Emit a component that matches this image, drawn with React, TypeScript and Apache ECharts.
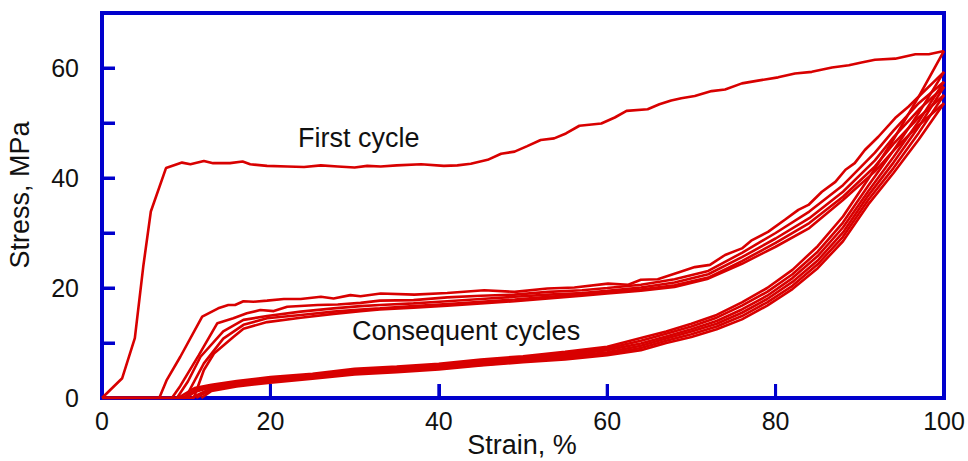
import React, { useEffect, useRef } from "react";
import * as echarts from "echarts";

// Axis settings
const X_TICKS = [0, 20, 40, 60, 80, 100];
const Y_TICK_LABELS = [0, 20, 40, 60];
const X_TICK_MARKS = [20, 40, 60, 80];
const Y_TICK_MARKS = [10, 20, 30, 40, 50, 60];

// First cycle loading curve [strain %, stress MPa]
const FIRST_LOAD: [number, number][] = [
  [0, 0], [2.4, 3.6], [3.9, 10.9], [4.9, 23.9], [5.8, 33.9], [7.6, 41.8], [9.5, 42.8], [10.5, 42.5],
  [12.1, 43.1], [13.2, 42.7], [15.2, 42.7], [16.7, 43.0], [17.6, 42.5], [19.6, 42.2], [22, 42.1],
  [24, 42.0], [26, 42.3], [28, 42.1], [30, 41.9], [31.5, 42.2], [33.1, 42.1], [35, 42.3], [37.9, 42.5],
  [40.6, 42.2], [42.2, 42.3], [43.8, 42.6], [45.8, 43.3], [47.4, 44.4], [49, 44.8], [50.5, 45.8],
  [52.1, 46.9], [53.7, 47.2], [55.1, 48.1], [56.7, 49.5], [59.3, 49.9], [60.9, 51.0], [62.3, 52.2],
  [64.8, 52.5], [66.2, 53.4], [67.6, 54.1], [68.8, 54.5], [70.4, 54.9], [72.4, 55.8], [74, 56.1],
  [76, 57.2], [77.9, 57.7], [80.3, 58.3], [82.3, 59.0], [84.3, 59.3], [86.7, 60.1], [88.7, 60.5],
  [90.2, 61.0], [91.8, 61.5], [94.2, 61.7], [96.6, 62.5], [98.2, 62.5], [100, 63.1],
];

// Consequent cycles, loading branches
const LOAD_2: [number, number][] = [
  [0, 0], [6.8, 0], [7.7, 3.3], [9.3, 7.5], [11.9, 14.8], [13.8, 16.3], [15, 16.9], [15.8, 16.9],
  [16.8, 17.6], [18, 17.5], [19.6, 17.7], [21.6, 18.0], [23.6, 18.0], [26, 18.4], [27.5, 18.1],
  [29.5, 18.7], [30.7, 18.5], [33.1, 19.0], [37.1, 18.8], [41, 19.1], [45.4, 19.6], [49, 19.3],
  [52.9, 19.9], [56.1, 20.1], [60.1, 20.8], [62.5, 20.6], [64, 21.5], [66, 21.6], [68.8, 23.0],
  [70.4, 23.8], [72.2, 24.2], [74, 26.0], [76, 27.2], [77.1, 28.6], [79.1, 30.2], [81.1, 32.4],
  [82.7, 34.2], [83.9, 35.1], [85.5, 37.5], [87.1, 39.3], [88.3, 41.5], [89.4, 42.7], [90.6, 45.1],
  [92.2, 47.5], [94.2, 50.9], [95.8, 53.0], [97.4, 55.4], [99, 57.8], [100, 59.3],
];
const LOAD_3: [number, number][] = [
  [0, 0], [8.3, 0], [9.3, 2.2], [11.5, 7.8], [13.7, 13.6], [15.6, 14.5], [17.2, 15.4], [18.8, 16.0],
  [20.4, 15.8], [22, 16.6], [25.6, 16.9], [28, 17.0], [30.7, 17.3], [33, 17.7], [37, 17.8], [41, 18.3],
  [45, 18.6], [49, 18.8], [53, 19.3], [57, 19.6], [60, 20.0], [64, 20.6], [68, 21.6], [72, 23.1],
  [76, 26.4], [80, 30.0], [84, 33.9], [88, 38.7], [91.8, 44.6], [94, 48.6], [97, 53.6], [100, 57.5],
];
const LOAD_4: [number, number][] = [
  [0, 0], [8.9, 0], [10.2, 3.0], [11.7, 7.5], [14.4, 12.1], [16.8, 14.2], [19.6, 14.9], [23.6, 15.7],
  [27.5, 16.3], [30.7, 16.7], [33, 16.9], [37, 17.2], [41, 17.6], [45, 18.0], [49, 18.4], [53, 18.8],
  [57, 19.1], [60, 19.5], [64, 20.1], [68, 21.0], [72, 22.5], [76, 25.6], [80, 29.0], [84, 32.7],
  [88, 37.5], [91.8, 43.2], [94, 47.4], [97, 52.4], [100, 56.6],
];
const LOAD_5: [number, number][] = [
  [0, 0], [9.9, 0], [12.1, 6.3], [14.4, 10.8], [16.8, 13.3], [19.6, 14.5], [23.6, 15.1], [27.5, 15.7],
  [30.7, 16.1], [33, 16.3], [37, 16.7], [41, 17.1], [45, 17.5], [49, 17.9], [53, 18.4], [57, 18.8],
  [60, 19.2], [64, 19.7], [68, 20.5], [72, 21.9], [76, 24.9], [80, 28.2], [84, 31.8], [88, 36.6],
  [91.8, 42.1], [94, 46.2], [97, 51.0], [100, 55.1],
];
const LOAD_6: [number, number][] = [
  [0, 0], [10.9, 0], [12.1, 5.1], [13.3, 8.1], [15.6, 11.1], [16.8, 12.6], [19.6, 13.8], [23.6, 14.6],
  [27.5, 15.3], [30.7, 15.8], [33, 16.1], [37, 16.4], [41, 16.8], [45, 17.2], [49, 17.6], [53, 18.1],
  [57, 18.6], [60, 19.0], [64, 19.5], [68, 20.2], [72, 21.7], [76, 24.4], [80, 27.5], [84, 30.9],
  [88, 36.0], [91.8, 41.2], [94, 45.0], [97, 49.6], [100, 53.6],
];

// Unloading branches (all cycles)
const UNLOAD_1: [number, number][] = [
  [100, 63.1], [97, 54.8], [94, 47.0], [91, 39.8], [88, 33.0], [85, 27.6], [82, 23.3], [79, 20.0],
  [76, 17.4], [73, 15.1], [70, 13.5], [67, 12.1], [64, 10.9], [60, 9.3], [55, 8.4], [50, 7.6],
  [45, 7.0], [40, 6.2], [35, 5.7], [30, 5.3], [25, 4.4], [20, 3.8], [16, 3.1], [13, 2.4], [11, 1.8], [9.0, 0],
];
const UNLOAD_2: [number, number][] = [
  [100, 59.3], [97, 51.8], [94, 45.0], [91, 38.6], [88, 31.9], [85, 26.6], [82, 22.5], [79, 19.3],
  [76, 16.8], [73, 14.6], [70, 13.0], [67, 11.7], [64, 10.4], [60, 9.0], [55, 8.1], [50, 7.4],
  [45, 6.7], [40, 6.0], [35, 5.5], [30, 5.0], [25, 4.2], [20, 3.6], [16, 2.9], [13, 2.2], [11, 1.4], [9.5, 0],
];
const UNLOAD_3: [number, number][] = [
  [100, 57.5], [97, 50.3], [94, 43.8], [91, 37.6], [88, 31.0], [85, 25.8], [82, 21.8], [79, 18.6],
  [76, 16.1], [73, 14.0], [70, 12.5], [67, 11.2], [64, 9.9], [60, 8.7], [55, 7.8], [50, 7.1],
  [45, 6.4], [40, 5.8], [35, 5.2], [30, 4.8], [25, 4.0], [20, 3.4], [16, 2.7], [13, 2.0], [11, 1.1], [10.0, 0],
];
const UNLOAD_4: [number, number][] = [
  [100, 56.6], [97, 49.3], [94, 42.8], [91, 36.8], [88, 30.1], [85, 25.0], [82, 21.1], [79, 18.0],
  [76, 15.5], [73, 13.5], [70, 12.1], [67, 10.8], [64, 9.5], [60, 8.3], [55, 7.5], [50, 6.9],
  [45, 6.2], [40, 5.5], [35, 5.0], [30, 4.6], [25, 3.8], [20, 3.1], [16, 2.5], [13, 1.8], [10.6, 0],
];
const UNLOAD_5: [number, number][] = [
  [100, 55.1], [97, 48.2], [94, 41.8], [91, 36.0], [88, 29.3], [85, 24.3], [82, 20.4], [79, 17.4],
  [76, 14.9], [73, 13.0], [70, 11.6], [67, 10.4], [64, 9.1], [60, 8.0], [55, 7.2], [50, 6.7],
  [45, 6.0], [40, 5.4], [35, 4.9], [30, 4.5], [25, 3.7], [20, 3.0], [16, 2.3], [13, 1.6], [11.2, 0],
];
const UNLOAD_6: [number, number][] = [
  [100, 53.6], [97, 47.0], [94, 40.9], [91, 35.2], [88, 28.5], [85, 23.6], [82, 19.8], [79, 16.8],
  [76, 14.3], [73, 12.5], [70, 11.1], [67, 10.0], [64, 8.7], [60, 7.8], [55, 7.0], [50, 6.5],
  [45, 5.9], [40, 5.2], [35, 4.7], [30, 4.3], [25, 3.5], [20, 2.8], [16, 2.1], [13, 1.3], [11.8, 0],
];

const CURVES = [
  FIRST_LOAD, LOAD_2, LOAD_3, LOAD_4, LOAD_5, LOAD_6,
  UNLOAD_1, UNLOAD_2, UNLOAD_3, UNLOAD_4, UNLOAD_5, UNLOAD_6,
];

const RED = "#d80000";
const BLUE = "#0000cd";
const FONT = "'Liberation Sans', Arial, Helvetica, sans-serif";
const X_TICK_LEN = 14;
const Y_TICK_LEN = 13;

export default function App() {
  const ref = useRef<HTMLDivElement>(null);
  useEffect(() => {
    if (!ref.current) return;
    const chart = echarts.init(ref.current, undefined, { renderer: "svg" });
    chart.setOption({
      animation: false,
      backgroundColor: "#ffffff",
      grid: {
        left: 102,
        right: 24,
        top: 13,
        bottom: 63,
        show: true,
        borderColor: BLUE,
        borderWidth: 4,
      },
      xAxis: {
        type: "value",
        min: X_TICKS[0],
        max: X_TICKS[X_TICKS.length - 1],
        interval: 20,
        splitLine: { show: false },
        axisLine: { show: true, onZero: false, lineStyle: { color: BLUE, width: 4 } },
        axisTick: { show: true, inside: true, length: X_TICK_LEN, lineStyle: { color: BLUE, width: 3 } },
        axisLabel: {
          show: true,
          margin: 10,
          fontSize: 25,
          fontFamily: FONT,
          color: "#111",
          formatter: (v: number) => (X_TICKS.includes(v) ? String(v) : ""),
        },
      },
      yAxis: {
        type: "value",
        min: 0,
        max: 70,
        interval: 10,
        splitLine: { show: false },
        axisLine: { show: true, onZero: false, lineStyle: { color: BLUE, width: 4 } },
        axisTick: { show: true, inside: true, length: Y_TICK_LEN, lineStyle: { color: BLUE, width: 3 } },
        axisLabel: {
          show: true,
          margin: 23,
          fontSize: 25,
          fontFamily: FONT,
          color: "#111",
          formatter: (v: number) => (Y_TICK_LABELS.includes(v) ? String(v) : ""),
        },
      },
      series: [
        ...CURVES.map((d, i) => ({
          type: "line",
          name: "c" + i,
          data: d,
          showSymbol: false,
          symbol: "none",
          smooth: false,
          clip: true,
          z: 2,
          lineStyle: { color: RED, width: 2.6 },
        })),
        {
          type: "custom",
          name: "xticks",
          silent: true,
          clip: false,
          z: 5,
          data: X_TICK_MARKS.map((v) => [v, 0]),
          renderItem: (params: any, api: any) => {
            const p = api.coord([api.value(0), 0]);
            return {
              type: "line",
              shape: { x1: p[0], y1: p[1], x2: p[0], y2: p[1] - X_TICK_LEN },
              style: { stroke: BLUE, lineWidth: 3 },
            };
          },
        },
        {
          type: "custom",
          name: "yticks",
          silent: true,
          clip: false,
          z: 5,
          data: Y_TICK_MARKS.map((v) => [0, v]),
          renderItem: (params: any, api: any) => {
            const p = api.coord([0, api.value(1)]);
            return {
              type: "line",
              shape: { x1: p[0], y1: p[1], x2: p[0] + Y_TICK_LEN, y2: p[1] },
              style: { stroke: BLUE, lineWidth: 3 },
            };
          },
        },
      ],
      graphic: [
        {
          type: "text",
          x: 20,
          y: 195,
          rotation: Math.PI / 2,
          style: {
            text: "Stress, MPa",
            fontSize: 27,
            fontFamily: FONT,
            fill: "#111",
            align: "center",
            verticalAlign: "middle",
          },
        },
        {
          type: "text",
          x: 522,
          y: 445,
          style: {
            text: "Strain, %",
            fontSize: 27,
            fontFamily: FONT,
            fill: "#111",
            align: "center",
            verticalAlign: "middle",
          },
        },
        {
          type: "text",
          x: 298,
          y: 137.5,
          style: {
            text: "First cycle",
            fontSize: 27,
            fontFamily: FONT,
            fill: "#111",
            align: "left",
            verticalAlign: "middle",
          },
        },
        {
          type: "text",
          x: 352,
          y: 331,
          style: {
            text: "Consequent cycles",
            fontSize: 27,
            fontFamily: FONT,
            fill: "#111",
            align: "left",
            verticalAlign: "middle",
          },
        },
      ],
    });
    return () => chart.dispose();
  }, []);
  return <div ref={ref} style={{ width: 968, height: 461, position: "absolute", left: 0, top: 0 }} />;
}
